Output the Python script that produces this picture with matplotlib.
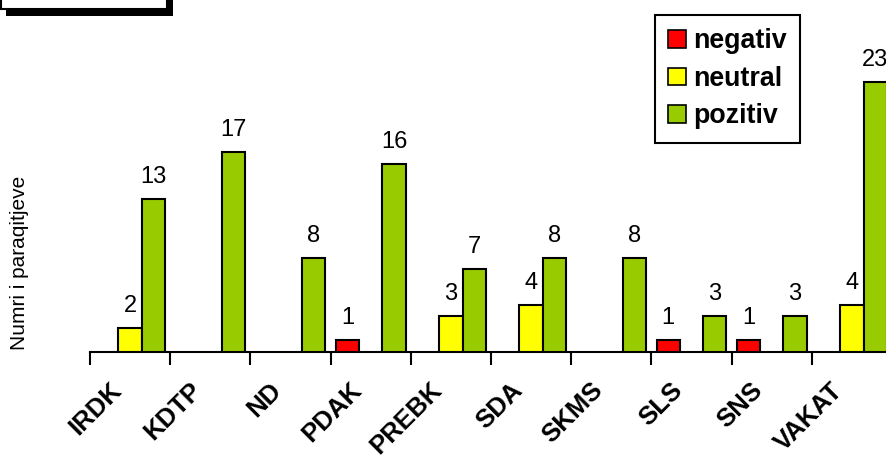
import matplotlib
matplotlib.use("Agg")
import matplotlib.pyplot as plt
import matplotlib.transforms as mtransforms
from matplotlib.patches import Rectangle
import numpy as np

PARTIES = ["IRDK", "KDTP", "ND", "PDAK", "PREBK", "SDA", "SKMS", "SLS", "SNS", "VAKAT"]
NEGATIV = [0, 0, 0, 1, 0, 0, 0, 1, 1, 0]
NEUTRAL = [2, 0, 0, 0, 3, 4, 0, 0, 0, 4]
POZITIV = [13, 17, 8, 16, 7, 8, 8, 3, 3, 23]
SERIES = ["negativ", "neutral", "pozitiv"]
COLORS = ["#FF0000", "#FFFF00", "#99CC00"]
YLABEL = "Numri i paraqitjeve"

plt.rcParams["font.family"] = ["Liberation Sans", "DejaVu Sans"]

W, H = 887, 458


def px_x(x):
    return x / W


def px_y(y):
    return 1 - y / H


def plot_chart():
    fig = plt.figure(figsize=(W / 100, H / 100), dpi=100)
    ax = fig.add_axes([px_x(90), px_y(351.5), 802 / W, 293 / H])

    x = np.arange(len(PARTIES))
    width = 0.29
    offsets = [-width, 0, width]
    for values, off, color in zip([NEGATIV, NEUTRAL, POZITIV], offsets, COLORS):
        vals = np.array(values)
        keep = vals > 0
        bars = ax.bar(x[keep] + off, vals[keep], width, color=color,
                      edgecolor="black", linewidth=1.5, zorder=3)
        for b, v in zip(bars, vals[keep]):
            ax.annotate(str(v), (b.get_x() + b.get_width() / 2, v),
                        xytext=(0, 11.5), textcoords="offset points",
                        ha="center", va="baseline", fontsize=17)

    ax.set_xlim(-0.5, len(PARTIES) - 0.5)
    ax.set_ylim(0, 25)
    for s in ["left", "top", "right"]:
        ax.spines[s].set_visible(False)
    ax.spines["bottom"].set_linewidth(1.5)
    ax.set_yticks([])

    ax.set_xticks(x)
    ax.set_xticklabels(PARTIES, rotation=45, ha="right", rotation_mode="anchor",
                       fontsize=18.5, fontweight="bold")
    ax.tick_params(axis="x", which="major", length=0, pad=22)
    ax.set_xticks(np.arange(len(PARTIES) + 1) - 0.5, minor=True)
    ax.tick_params(axis="x", which="minor", length=9, width=1.5, direction="out")
    shift = mtransforms.ScaledTranslation(-0.21, 0.04, fig.dpi_scale_trans)
    for lbl in ax.get_xticklabels():
        lbl.set_transform(lbl.get_transform() + shift)

    fig.text(px_x(19.5), px_y(263), YLABEL, rotation=90, ha="center",
             va="center", fontsize=15)

    handles = [Rectangle((0, 0), 1, 1, facecolor=c, edgecolor="black", linewidth=1.2)
               for c in COLORS]
    leg = fig.legend(handles, SERIES, loc="upper left",
                     bbox_to_anchor=(px_x(655), px_y(15)),
                     prop={"size": 19.3, "weight": "bold"},
                     handlelength=0.64, handleheight=0.64, handletextpad=0.27,
                     labelspacing=0.43, borderpad=0.5, borderaxespad=0,
                     fancybox=False, edgecolor="black", framealpha=1)
    leg.get_frame().set_linewidth(1.5)

    # partially visible title box with shadow (top-left)
    fig.add_artist(Rectangle((px_x(6), px_y(15.7)), px_x(167), 0.2,
                             transform=fig.transFigure, facecolor="black",
                             edgecolor="black", linewidth=0))
    fig.add_artist(Rectangle((px_x(1), px_y(9)), px_x(166), 0.2,
                             transform=fig.transFigure, facecolor="white",
                             edgecolor="black", linewidth=1.5))

    fig.savefig("out.png", dpi=100)


def main():
    plot_chart()


if __name__ == "__main__":
    main()
